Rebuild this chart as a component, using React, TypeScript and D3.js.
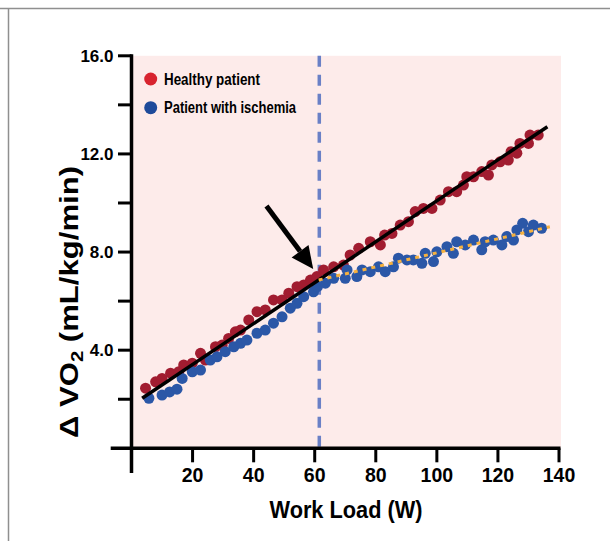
import React from "react";
import * as d3 from "d3";

// Healthy patient (work load W, ΔVO2 mL/kg/min)
const healthyLoad = [4.6, 7.9, 10.0, 12.8, 15.5, 17.1, 19.9, 22.6, 24.2, 27.5, 29.7, 31.8, 34.0, 35.7, 38.4, 41.1, 43.8, 46.5, 49.3, 51.5, 54.2, 56.4, 58.6, 60.7, 62.9, 66.2, 69.4, 71.6, 74.4, 78.2, 81.5, 82.9, 85.3, 88.0, 90.7, 92.9, 95.6, 98.4, 101.1, 103.8, 106.5, 108.7, 109.8, 112.0, 114.7, 116.9, 118.0, 120.7, 123.4, 124.3, 126.2, 127.2, 130.0, 130.5, 133.2];
const healthyVO2 = [2.45, 2.71, 2.85, 3.06, 3.12, 3.40, 3.47, 3.87, 3.60, 4.14, 4.21, 4.48, 4.75, 4.82, 5.23, 5.57, 5.64, 6.05, 6.05, 6.32, 6.59, 6.66, 6.86, 7.00, 7.27, 7.40, 7.47, 7.88, 8.15, 8.42, 8.29, 8.69, 8.76, 9.10, 9.24, 9.65, 9.78, 9.78, 10.12, 10.46, 10.46, 10.73, 11.07, 11.07, 11.28, 11.14, 11.55, 11.68, 11.75, 12.09, 12.03, 12.43, 12.43, 12.77, 12.77];

// Patient with ischemia
const ischemiaLoad = [5.7, 10.0, 12.5, 14.9, 16.6, 19.9, 22.6, 25.8, 28.0, 30.7, 33.5, 35.7, 37.8, 41.1, 43.8, 46.5, 49.3, 52.0, 54.2, 56.4, 59.6, 60.9, 63.5, 66.2, 70.0, 70.6, 73.8, 75.5, 78.2, 80.9, 83.1, 85.8, 87.4, 90.2, 92.3, 95.1, 96.2, 98.9, 100.0, 103.3, 105.4, 106.5, 109.3, 112.0, 114.7, 115.8, 118.5, 121.3, 122.9, 125.1, 126.2, 128.1, 130.0, 131.6, 134.3];
const ischemiaVO2 = [2.04, 2.17, 2.30, 2.41, 2.85, 3.12, 3.19, 3.60, 3.73, 3.94, 4.14, 4.28, 4.41, 4.69, 4.82, 5.10, 5.36, 5.71, 5.91, 6.18, 6.38, 6.59, 6.73, 6.93, 6.93, 7.27, 7.00, 7.27, 7.20, 7.40, 7.20, 7.40, 7.75, 7.68, 7.68, 7.54, 7.95, 7.61, 8.01, 8.22, 7.95, 8.42, 8.29, 8.49, 8.09, 8.42, 8.49, 8.29, 8.63, 8.49, 8.90, 9.17, 8.83, 9.10, 8.97];

// Fit lines
const healthyFitLoad = [3.5, 136.2];
const healthyFitVO2 = [2.04, 13.11];
const ischemiaFitLoad = [61.3, 137.0];
const ischemiaFitVO2 = [6.86, 9.03];

// Ischemic threshold and arrow annotation
const thresholdLoad = 61.5;
const arrowLoad = [44.2, 59.5];
const arrowVO2 = [9.88, 7.31];

const xTicks = [20, 40, 60, 80, 100, 120, 140];
const yTicks = [2, 4, 6, 8, 10, 12, 14, 16];
const yLabeledTicks = [4, 8, 12, 16];

const legendLabels = ["Healthy patient", "Patient with ischemia"];
const legendColors = ["#d8232f", "#1e4a9a"];

const HEALTHY_COLOR = "#a11c30";
const ISCHEMIA_COLOR = "#2b57a7";

export default function App() {
  const x = d3.scaleLinear().domain([0, 140]).range([131.5, 559]);
  const y = d3.scaleLinear().domain([0, 16]).range([448.3, 55.8]);
  const fmt = d3.format(".1f");

  const line = d3
    .line<[number, number]>()
    .x((d) => x(d[0]))
    .y((d) => y(d[1]));

  const healthyFit: [number, number][] = healthyFitLoad.map((v, i) => [v, healthyFitVO2[i]]);
  const ischemiaFit: [number, number][] = ischemiaFitLoad.map((v, i) => [v, ischemiaFitVO2[i]]);

  // arrow geometry
  const ax0 = x(arrowLoad[0]);
  const ay0 = y(arrowVO2[0]);
  const ax1 = x(arrowLoad[1]);
  const ay1 = y(arrowVO2[1]);
  const dx = ax1 - ax0;
  const dy = ay1 - ay0;
  const len = Math.hypot(dx, dy);
  const ux = dx / len;
  const uy = dy / len;
  const headLen = 22;
  const headHalf = 10.5;
  const bx = ax1 - ux * headLen;
  const by = ay1 - uy * headLen;
  const px = -uy;
  const py = ux;
  const headPts = `${ax1},${ay1} ${bx + px * headHalf},${by + py * headHalf} ${bx - px * headHalf},${by - py * headHalf}`;

  const axisColor = "#000";
  const fontFam = "'Liberation Sans', Arial, sans-serif";

  return (
    <svg
      width={610}
      height={541}
      style={{ position: "absolute", left: 0, top: 0, background: "#fff" }}
    >
      {/* frame */}
      <line x1={0} y1={8.5} x2={610} y2={8.5} stroke="#8f8f8f" strokeWidth={1.5} />
      <line x1={8.5} y1={8} x2={8.5} y2={541} stroke="#8f8f8f" strokeWidth={1.5} />

      {/* plot background */}
      <rect
        x={x(0)}
        y={y(16)}
        width={x(140) + 2 - x(0)}
        height={y(0) - y(16)}
        fill="#fdebea"
      />

      {/* threshold dashed line */}
      <line
        x1={x(thresholdLoad)}
        x2={x(thresholdLoad)}
        y1={y(16)}
        y2={y(0)}
        stroke="#6a80c6"
        strokeWidth={3.5}
        strokeDasharray="11,8"
      />

      {/* healthy points */}
      {healthyLoad.map((w, i) => (
        <circle key={"h" + i} cx={x(w)} cy={y(healthyVO2[i])} r={5.5} fill={HEALTHY_COLOR} />
      ))}
      {/* ischemia points */}
      {ischemiaLoad.map((w, i) => (
        <circle key={"s" + i} cx={x(w)} cy={y(ischemiaVO2[i])} r={5.5} fill={ISCHEMIA_COLOR} />
      ))}

      {/* fit lines */}
      <path d={line(healthyFit) || ""} stroke="#000" strokeWidth={3.5} fill="none" />
      <path
        d={line(ischemiaFit) || ""}
        stroke="#f6b13f"
        strokeWidth={3}
        strokeDasharray="4,5"
        fill="none"
      />

      {/* arrow */}
      <line x1={ax0} y1={ay0} x2={bx} y2={by} stroke="#000" strokeWidth={5} />
      <polygon points={headPts} fill="#000" />

      {/* y axis */}
      <line x1={x(0)} x2={x(0)} y1={y(16) - 1.5} y2={473} stroke={axisColor} strokeWidth={3.5} />
      {yTicks.map((t) => (
        <line key={"yt" + t} x1={x(0)} x2={x(0) - 13.5} y1={y(t)} y2={y(t)} stroke={axisColor} strokeWidth={3} />
      ))}
      {yLabeledTicks.map((t) => (
        <text
          key={"yl" + t}
          x={x(0) - 18}
          y={y(t)}
          dy="0.36em"
          textAnchor="end"
          fontFamily={fontFam}
          fontWeight="bold"
          fontSize={17}
          fill="#000"
        >
          {fmt(t)}
        </text>
      ))}

      {/* x axis */}
      <line x1={110.7} x2={x(140) + 1.5} y1={y(0)} y2={y(0)} stroke={axisColor} strokeWidth={3.5} />
      {xTicks.map((t) => (
        <line key={"xt" + t} x1={x(t)} x2={x(t)} y1={y(0)} y2={y(0) + 14} stroke={axisColor} strokeWidth={3} />
      ))}
      {xTicks.map((t) => (
        <text
          key={"xl" + t}
          x={x(t)}
          y={482}
          textAnchor="middle"
          fontFamily={fontFam}
          fontWeight="bold"
          fontSize={19.5}
          fill="#000"
        >
          {t}
        </text>
      ))}

      {/* axis titles */}
      <text
        x={346}
        y={518}
        textAnchor="middle"
        fontFamily={fontFam}
        fontWeight="bold"
        fontSize={23}
        textLength={153}
        lengthAdjust="spacingAndGlyphs"
        fill="#000"
      >
        Work Load (W)
      </text>
      <text
        transform="translate(78,302) rotate(-90)"
        textAnchor="middle"
        fontFamily={fontFam}
        fontWeight="bold"
        fontSize={26}
        textLength={272}
        lengthAdjust="spacingAndGlyphs"
        fill="#000"
      >
        Δ VO
        <tspan fontSize={17} dy={5}>2</tspan>
        <tspan dy={-5}> (mL/kg/min)</tspan>
      </text>

      {/* legend */}
      {legendLabels.map((lab, i) => (
        <g key={"lg" + i}>
          <circle cx={150.7} cy={79 + i * 28.7} r={6.5} fill={legendColors[i]} />
          <text
            x={164}
            y={79 + i * 28.7}
            dy="0.36em"
            fontFamily={fontFam}
            fontWeight="bold"
            fontSize={16}
            textLength={i === 0 ? 96 : 132}
            lengthAdjust="spacingAndGlyphs"
            fill="#000"
          >
            {lab}
          </text>
        </g>
      ))}
    </svg>
  );
}
